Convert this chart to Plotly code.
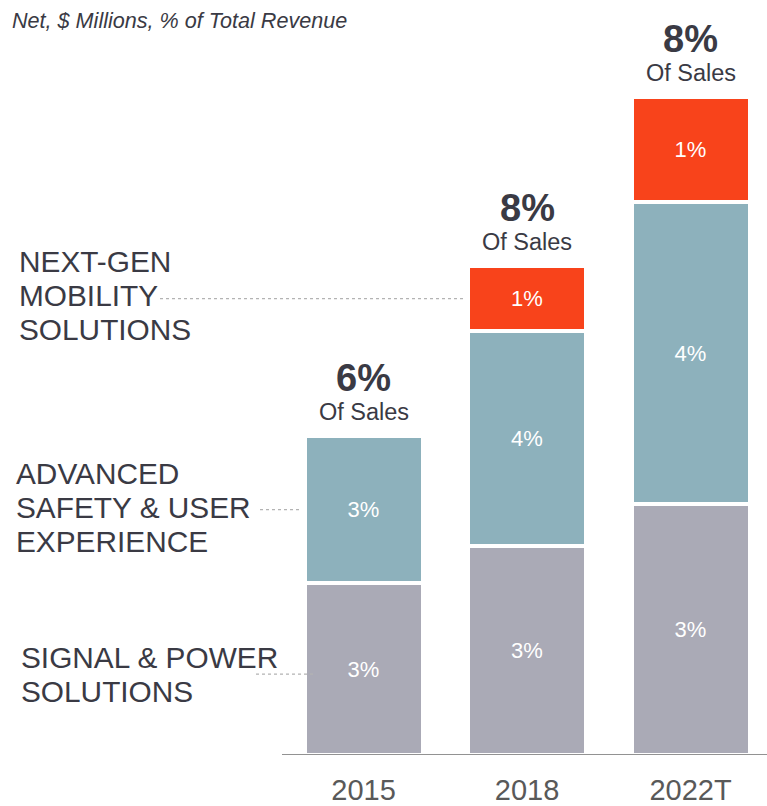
import plotly.graph_objects as go

# ---- data ----
years = ["2015", "2018", "2022T"]
signal_power = [172, 210, 252]          # $ millions
adv_safety = [148, 215, 302]
next_gen = [0, 65, 106]
signal_pct = ["3%", "3%", "3%"]
safety_pct = ["3%", "4%", "4%"]
nextgen_pct = ["", "1%", "1%"]
total_pct = ["6%", "8%", "8%"]
series_labels = [
    ["SIGNAL & POWER", "SOLUTIONS"],
    ["ADVANCED", "SAFETY & USER", "EXPERIENCE"],
    ["NEXT-GEN", "MOBILITY", "SOLUTIONS"],
]
label_bar_index = [0, 0, 1]  # bar each side label points to

# ---- style ----
W, H = 767, 806
FONT = "Arial, Liberation Sans, sans-serif"
DARK = "#3a3a44"
colors = ["#aaaab6", "#8db1bc", "#f8431b"]
x_pos = [0, 1, 2]
px_per_cat = 163.5
x0_px = 363.5
def px_to_x(px):
    return (px - x0_px) / px_per_cat

series = [signal_power, adv_safety, next_gen]
texts = [signal_pct, safety_pct, nextgen_pct]

fig = go.Figure()
for vals, txt, col in zip(series, texts, colors):
    fig.add_trace(go.Bar(
        x=x_pos, y=[v if v else None for v in vals], text=txt,
        width=118 / px_per_cat,
        marker=dict(color=col, line=dict(color="white", width=4)),
        textposition="inside", insidetextanchor="middle", textangle=0,
        textfont=dict(color="white", size=22, family=FONT),
        hoverinfo="skip", showlegend=False,
    ))

totals = [a + b + c for a, b, c in zip(*series)]
ymax = 757

annotations = []
for i, (t, p) in enumerate(zip(totals, total_pct)):
    annotations.append(dict(x=x_pos[i], y=t, xref="x", yref="y", text="<b>" + p + "</b>",
                            showarrow=False, yanchor="middle", yshift=58,
                            font=dict(size=38, color=DARK, family=FONT)))
    annotations.append(dict(x=x_pos[i], y=t, xref="x", yref="y", text="Of Sales",
                            showarrow=False, yanchor="middle", yshift=24,
                            font=dict(size=23.5, color=DARK, family=FONT)))

# side labels & connectors
conn_px = [(256, 313), (260, 300), (160, 466)]
label_left_px = [19, 14, 17]
label_dy = [-5, 2, 3]        # pixel nudge of label block (+ = up)
conn_dy = [-5, 0, 0]
shapes = []
for s, (lines, bi) in enumerate(zip(series_labels, label_bar_index)):
    base = sum(series[k][bi] for k in range(s))
    ymid = base + series[s][bi] / 2
    n = len(lines)
    for j, line in enumerate(lines):
        annotations.append(dict(x=label_left_px[s] / W, y=ymid, xref="paper", yref="y", text=line,
                                showarrow=False, xanchor="left", yanchor="middle",
                                yshift=((n - 1) / 2 - j) * 34 + label_dy[s],
                                font=dict(size=29.8, color=DARK, family=FONT)))
    yc = ymid + conn_dy[s] * ymax / 757
    shapes.append(dict(type="line", xref="x", yref="y",
                       x0=px_to_x(conn_px[s][0]), x1=px_to_x(conn_px[s][1]),
                       y0=yc, y1=yc,
                       line=dict(color="#b3b3b3", width=1.2, dash="3px,3px")))

# baseline
shapes.append(dict(type="line", xref="x", yref="y", x0=px_to_x(282), x1=px_to_x(767),
                   y0=0, y1=0, line=dict(color="#6e6e6e", width=1.5)))

annotations.append(dict(x=10 / W, y=1, xref="paper", yref="paper",
                        text="<i>Net, $ Millions, % of Total Revenue</i>",
                        showarrow=False, xanchor="left", yanchor="middle", yshift=-20,
                        font=dict(size=21.6, color=DARK, family=FONT)))

fig.update_layout(
    width=W, height=H, barmode="stack",
    margin=dict(l=0, r=0, t=0, b=49),
    plot_bgcolor="white", paper_bgcolor="white",
    annotations=annotations, shapes=shapes,
    xaxis=dict(range=[px_to_x(0), px_to_x(W)], tickvals=x_pos, ticktext=years,
               showgrid=False, zeroline=False, showline=False, ticks="",
               ticklabelstandoff=15,
               tickfont=dict(size=29, color="#595959", family=FONT)),
    yaxis=dict(range=[0, ymax], visible=False, showgrid=False, zeroline=False),
)

fig.write_html("out.html")
